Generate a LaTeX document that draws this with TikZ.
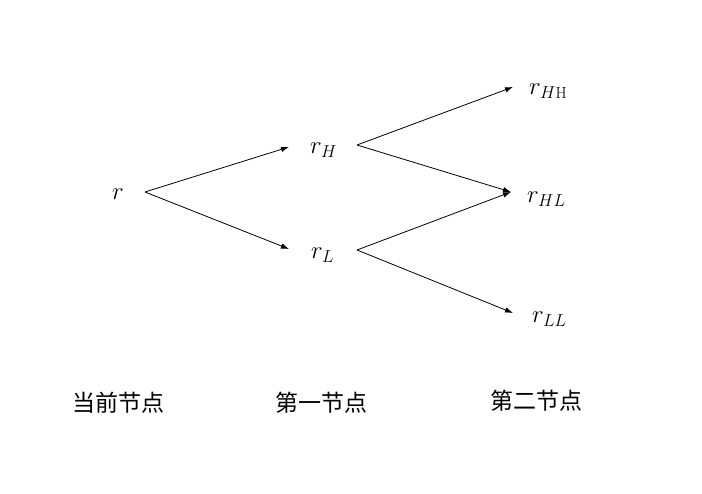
\documentclass[tikz,border=0pt]{standalone}
\usepackage{fontspec}
\newfontfamily\cjk{Noto Sans CJK SC}
\usetikzlibrary{arrows.meta,calc}
\begin{document}
\begin{tikzpicture}[x=1pt,y=-1pt,
  val/.style={inner sep=0pt,anchor=base west,font=\fontsize{23}{27}\selectfont},
  lbl/.style={inner sep=0pt,anchor=center,font=\cjk\fontsize{23}{27}\selectfont},
  arr/.style={draw=black,line width=0.8pt,-{Latex[length=8pt,width=5.5pt]}}]
\useasboundingbox (0,0) rectangle (702,494);
\node[val] (r) at (112,200) {$r$};
\node[val] (rH) at (310,154) {$r_H$};
\node[val] (rL) at (311,259) {$r_L$};
\node[val] (rHH) at (529,95) {$r_{H\mathrm{H}}$};
\node[val] (rHL) at (527,203) {$r_{HL}$};
\node[val] (rLL) at (532,323) {$r_{LL}$};
\draw[arr] ($(r.base west)+(33,-8)$) -- ($(rH.base west)+(-21,-7)$);
\draw[arr] ($(r.base west)+(33,-8)$) -- ($(rL.base west)+(-22,-10)$);
\draw[arr] ($(rH.base west)+(47,-9)$) -- ($(rHH.base west)+(-16,-8)$);
\draw[arr] ($(rH.base west)+(47,-9)$) -- ($(rHL.base west)+(-16,-11)$);
\draw[arr] ($(rL.base west)+(46,-9)$) -- ($(rHL.base west)+(-16,-11)$);
\draw[arr] ($(rL.base west)+(46,-9)$) -- ($(rLL.base west)+(-19,-10)$);
\node[lbl] (t0) at (118,403) {当前节点};
\node[lbl] (t1) at (321,403) {第一节点};
\node[lbl] (t2) at (536,401) {第二节点};
\end{tikzpicture}
\end{document}
